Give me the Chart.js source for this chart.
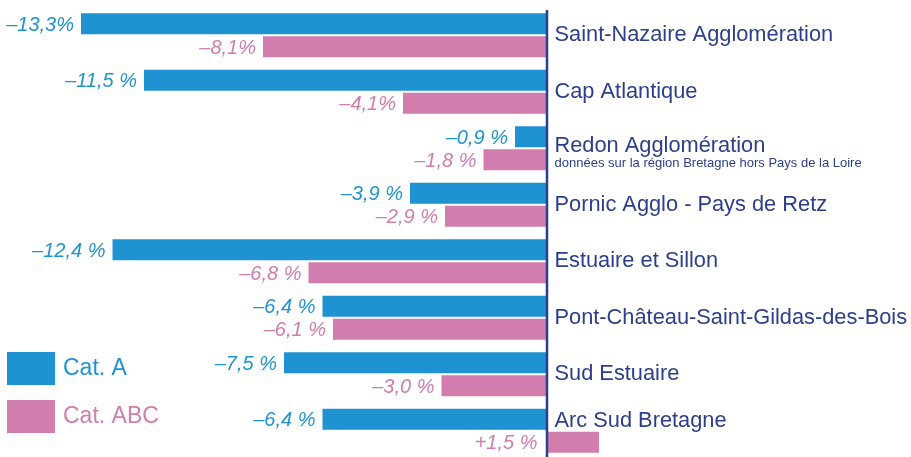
<!DOCTYPE html>
<html>
<head>
<meta charset="utf-8">
<script src="https://cdn.jsdelivr.net/npm/chart.js@4/dist/chart.umd.min.js"></script>
<style>
  html, body { margin: 0; padding: 0; background: #fff; overflow: hidden; }
  #wrap { position: relative; width: 911px; height: 460px; }
</style>
</head>
<body>
<div id="wrap"><canvas id="chart"></canvas></div>
<script>
const territoires = [
    'Saint-Nazaire Agglomération',
    'Cap Atlantique',
    'Redon Agglomération',
    'Pornic Agglo - Pays de Retz',
    'Estuaire et Sillon',
    'Pont-Château-Saint-Gildas-des-Bois',
    'Sud Estuaire',
    'Arc Sud Bretagne'
];
const catA = [-13.3, -11.5, -0.9, -3.9, -12.4, -6.4, -7.5, -6.4];
const catABC = [-8.1, -4.1, -1.8, -2.9, -6.8, -6.1, -3.0, 1.5];
const etiquettesA = ['–13,3%', '–11,5 %', '–0,9 %', '–3,9 %', '–12,4 %', '–6,4 %', '–7,5 %', '–6,4 %'];
const etiquettesABC = ['–8,1%', '–4,1%', '–1,8 %', '–2,9 %', '–6,8 %', '–6,1 %', '–3,0 %', '+1,5 %'];
const sousTitre = 'données sur la région Bretagne hors Pays de la Loire';

const BLEU = '#1f93d2';
const ROSE = '#d17dad';
const MARINE = '#2b3f8c';

// decalages verticaux des noms (ligne de base par rapport au centre du groupe)
const decalNom = { 2: 4, 7: -3.5 };

const habillage = {
    id: 'habillage',
    afterDatasetsDraw(chart) {
        const c = chart.ctx;
        const x = chart.scales.x;
        const zero = x.getPixelForValue(0);
        c.save();

        // etiquettes de valeurs
        c.font = 'italic 20px "Liberation Sans", Arial, sans-serif';
        c.textAlign = 'right';
        c.textBaseline = 'alphabetic';
        [[0, etiquettesA, BLEU], [1, etiquettesABC, ROSE]].forEach(([di, txt, col]) => {
            const meta = chart.getDatasetMeta(di);
            meta.data.forEach((bar, i) => {
                const v = chart.data.datasets[di].data[i];
                const px = v < 0 ? bar.x - 7 : zero - 9;
                c.fillStyle = col;
                c.fillText(txt[i], px, bar.y + 7);
            });
        });

        // axe vertical
        c.strokeStyle = MARINE;
        c.lineWidth = 2.5;
        c.beginPath();
        c.moveTo(zero + 0.5, 10);
        c.lineTo(zero + 0.5, chart.height);
        c.stroke();

        // noms des territoires
        const y = chart.scales.y;
        c.textAlign = 'left';
        c.fillStyle = MARINE;
        territoires.forEach((t, i) => {
            const cy = y.getPixelForValue(i);
            const d = decalNom[i] !== undefined ? decalNom[i] : 6;
            c.font = '21.8px "Liberation Sans", Arial, sans-serif';
            c.fillText(t, zero + 8, cy + d);
            if (i === 2) {
                c.font = '13px "Liberation Sans", Arial, sans-serif';
                c.fillText(sousTitre, zero + 8, cy + 19);
            }
        });

        // legende
        const leg = [['Cat. A', BLEU, 352], ['Cat. ABC', ROSE, 400]];
        c.font = '23px "Liberation Sans", Arial, sans-serif';
        leg.forEach(([lib, col, top]) => {
            c.fillStyle = col;
            c.fillRect(7, top, 48, 33);
            c.fillText(lib, 63, top + 23);
        });

        c.restore();
    }
};

new Chart(document.getElementById('chart'), {
    type: 'bar',
    data: {
        labels: territoires,
        datasets: [
            { label: 'Cat. A', data: catA, backgroundColor: BLEU },
            { label: 'Cat. ABC', data: catABC, backgroundColor: ROSE }
        ]
    },
    options: {
        indexAxis: 'y',
        responsive: true,
        maintainAspectRatio: false,
        animation: false,
        layout: { padding: { top: 7, bottom: 1, left: 0, right: 0 } },
        categoryPercentage: 0.814,
        barPercentage: 0.913,
        scales: {
            x: { display: false, min: -546.5 / 35, max: 364.5 / 35 },
            y: { display: false }
        },
        plugins: {
            legend: { display: false },
            tooltip: { enabled: false }
        }
    },
    plugins: [habillage]
});
</script>
</body>
</html>
